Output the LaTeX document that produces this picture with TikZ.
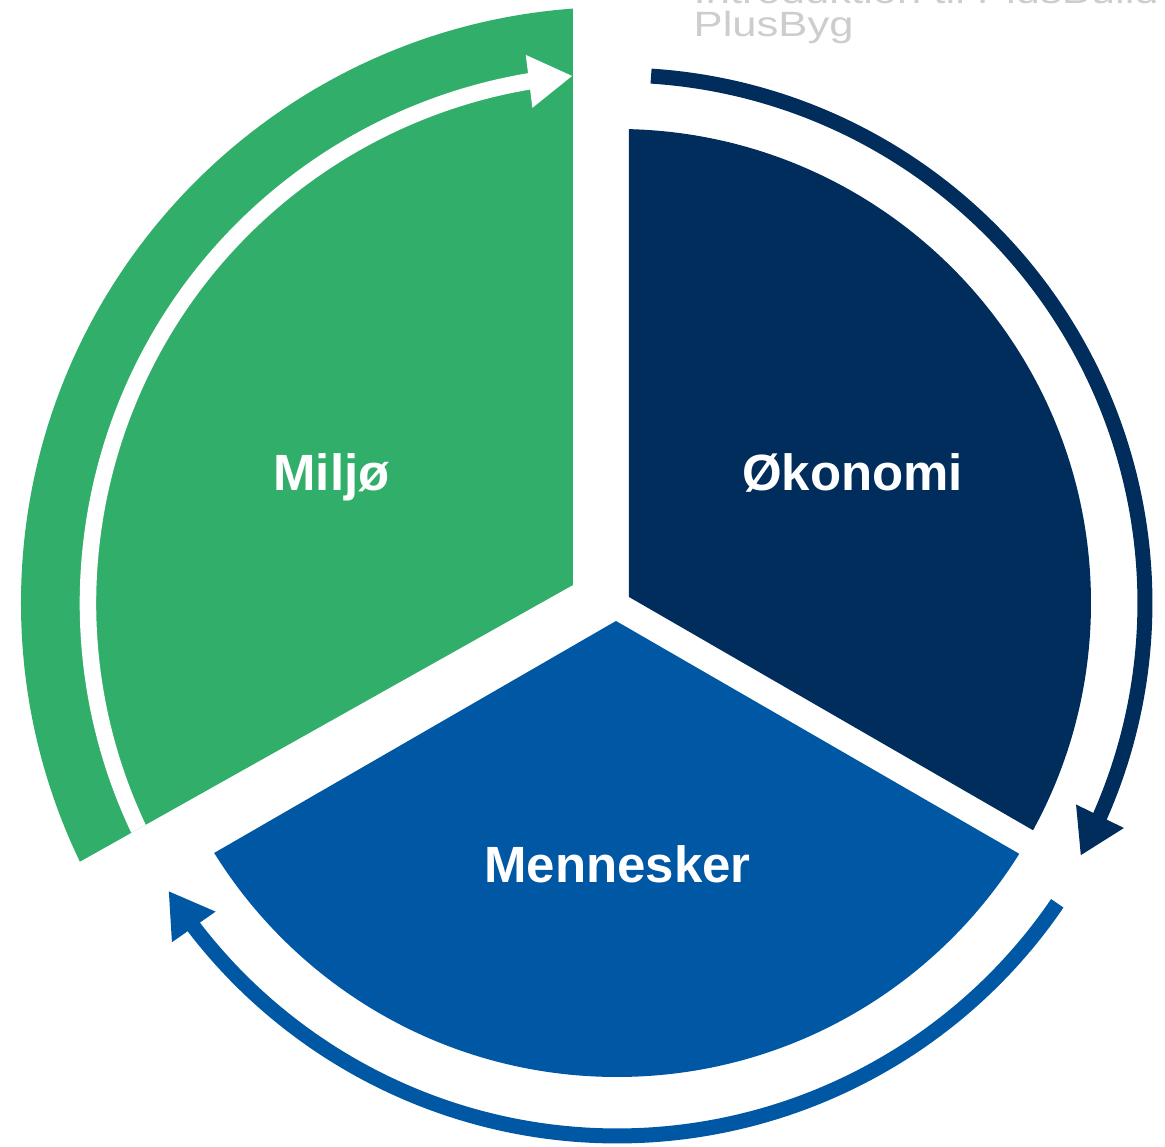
\documentclass[tikz,border=0pt]{standalone}
\usepackage{fontspec}
\setmainfont{Liberation Sans}
\usetikzlibrary{arrows.meta,bending}
\definecolor{miljogreen}{RGB}{49,174,106}
\definecolor{okonavy}{RGB}{0,45,91}
\definecolor{menneblue}{RGB}{0,87,163}
\definecolor{wmgray}{RGB}{205,205,205}
\newcommand{\wide}[1]{\scalebox{1.24}[1]{#1}}

\begin{document}
\begin{tikzpicture}[
    sectortext/.style={text=white, font=\bfseries\fontsize{14.5}{17}\selectfont, anchor=base},
    ring/.style={line width=1.5mm, -{Triangle[length=4.4mm,width=5mm,flex]}},
    wm/.style={text=wmgray, font=\fontsize{10}{12}\selectfont, anchor=base west, inner sep=0pt}
]
    \useasboundingbox (-6.17,-5.44) rectangle (5.48,6.03);
    % Miljoe
    \begin{scope}
        \clip (-0.44,0.18) -- +(0,8) -- +(-8,8) -- +(209.3:9.2) -- cycle;
        \fill[miljogreen] (0,0) circle (5.96);
        \draw[ring, white, line width=1.65mm] (215:5.29) arc[start angle=215, end angle=94.8, radius=5.29];
    \end{scope}
    % Oekonomi
    \begin{scope}
        \clip (0.12,0.06) -- +(0,7) -- +(7,7) -- +(-30:8.1) -- cycle;
        \fill[okonavy] (0,0) circle (4.74);
    \end{scope}
    % Mennesker
    \begin{scope}
        \clip (-0.01,-0.18) -- +(210:9) -- +(-7.8,-9) -- +(7.8,-9) -- +(330:9) -- cycle;
        \fill[menneblue] (0,0) circle (4.74);
    \end{scope}
    % arrows round the circle
    \draw[ring, okonavy] (86.3:5.28) arc[start angle=86.3, end angle=-28.6, radius=5.28];
    \draw[ring, menneblue] (-34.3:5.33) arc[start angle=-34.3, end angle=-147.3, radius=5.33];
    \node[sectortext] (miljo) at (-2.855,1.12) {Miljø};
    \node[sectortext] (okonomi) at (2.355,1.12) {Økonomi};
    \node[sectortext] (mennesker) at (0.005,-2.80) {Mennesker};
    \node[wm, text depth=0pt] (intro) at (0.76,5.99) {\wide{Introduktion til PlusBuild}};
    \node[wm, text height=2.3mm] (plusbyg) at (0.76,5.66) {\wide{PlusByg}};
\end{tikzpicture}
\end{document}
